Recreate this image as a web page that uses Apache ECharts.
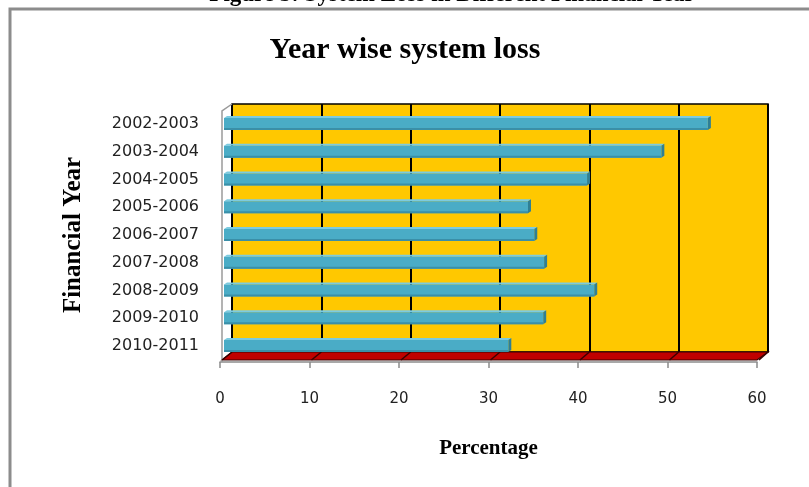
<!DOCTYPE html>
<html>
<head>
<meta charset="utf-8">
<script src="https://cdn.jsdelivr.net/npm/echarts@6/dist/echarts.min.js"></script>
<style>
  html, body { margin: 0; padding: 0; background: #fff; }
  #chart { width: 809px; height: 487px; }
</style>
</head>
<body>
<div id="chart"></div>
<script>
// data
const years = ["2002-2003", "2003-2004", "2004-2005", "2005-2006", "2006-2007",
  "2007-2008", "2008-2009", "2009-2010", "2010-2011"];
const loss = [54.4, 49.2, 40.9, 34.3, 35.0, 36.1, 41.7, 36.0, 32.1];
const xTicks = [0, 10, 20, 30, 40, 50, 60];

const serif = "Liberation Serif";
const sans = "DejaVu Sans";

// back wall / front face layout
const back = { left: 232, top: 104, right: 41, bottom: 135 };
const front = { left: 220, top: 110, right: 52, bottom: 127 };

const chart = echarts.init(document.getElementById("chart"));

const renderBar = (params, api) => {
  const cat = api.value(0);
  const v = api.value(1);
  const p0 = api.coord([0, cat]);
  const p1 = api.coord([v, cat]);
  const c = p0[1];
  const x0 = p0[0] + 4, x1 = p1[0] + 1;
  const y0 = c - 6, y1 = c + 6;
  const d = 3;
  return {
    type: "group",
    children: [
      { type: "polygon", shape: { points: [[x0, y0], [x0 + d, y0 - 2], [x1 + d, y0 - 2], [x1, y0]] },
        style: { fill: "#7ccbe0" } },
      { type: "polygon", shape: { points: [[x1, y0], [x1 + d, y0 - 2], [x1 + d, y1 - 2], [x1, y1]] },
        style: { fill: "#2f7f95" } },
      { type: "rect", shape: { x: x0, y: y0, width: x1 - x0, height: y1 - y0 },
        style: { fill: "#4aacc6" } },
      { type: "rect", shape: { x: x0, y: y1 - 2, width: x1 - x0, height: 2 },
        style: { fill: "#3a8fa8" } }
    ]
  };
};

chart.setOption({
  animation: false,
  title: {
    text: "Year wise system loss",
    left: 400,
    top: 30,
    textAlign: "center",
    textStyle: { fontFamily: serif, fontSize: 30, fontWeight: "bold", color: "#000" }
  },
  grid: [
    Object.assign({ show: true, backgroundColor: "#ffc800", borderColor: "#000", borderWidth: 1.5, z: 0 }, back),
    Object.assign({}, front)
  ],
  xAxis: [
    {
      gridIndex: 0, type: "value", min: 0, max: 60, interval: 10,
      axisLine: { show: false }, axisTick: { show: false }, axisLabel: { show: false },
      splitLine: { show: true, lineStyle: { color: "#000", width: 2 } }
    },
    {
      gridIndex: 1, type: "value", min: 0, max: 60, interval: 10, offset: 2,
      axisLine: { show: true, lineStyle: { color: "#8c8c8c", width: 1.5 } },
      axisTick: { show: true, length: 6, lineStyle: { color: "#8c8c8c", width: 1.5 } },
      axisLabel: {
        margin: 30, fontFamily: sans, fontSize: 15, color: "#222",
        formatter: (v) => (xTicks.includes(v) ? String(v) : "")
      },
      splitLine: { show: false },
      name: "Percentage", nameLocation: "middle", nameGap: 76,
      nameTextStyle: { fontFamily: serif, fontSize: 21, fontWeight: "bold", color: "#000" }
    }
  ],
  yAxis: [
    { gridIndex: 0, type: "value", show: false },
    {
      gridIndex: 1, type: "category", data: years, inverse: true,
      axisLine: { show: false }, axisTick: { show: false },
      axisLabel: { margin: 21, fontFamily: sans, fontSize: 16, color: "#222", padding: [6, 0, 0, 0] },
      name: "Financial Year", nameLocation: "middle", nameGap: 134, nameRotate: 90,
      nameTextStyle: { fontFamily: serif, fontSize: 25, fontWeight: "bold", color: "#000" }
    }
  ],
  series: [
    {
      type: "custom",
      xAxisIndex: 1, yAxisIndex: 1,
      renderItem: renderBar,
      data: years.map((y, i) => [i, loss[i]]),
      z: 5
    }
  ]
});

// decoration: floor, left wall edge, frame, cut-off caption
const W = 809, H = 487;
const fb = H - front.bottom;              // front floor edge y
const bb = H - back.bottom;               // back floor edge y
const floorLines = xTicks.map((t) => {
  const xb = chart.convertToPixel({ xAxisIndex: 0 }, t);
  const xf = chart.convertToPixel({ xAxisIndex: 1 }, t);
  return { type: "line", shape: { x1: xb, y1: bb, x2: xf + 2, y2: fb }, style: { stroke: "#3a0000", lineWidth: 1.5 }, z: 3 };
});

chart.setOption({
  graphic: [
    {
      type: "rect", shape: { x: 10, y: 9, width: 1000, height: 1000 },
      style: { fill: "none", stroke: "#8c8c8c", lineWidth: 3 }, z: 1
    },
    {
      type: "text", x: 452, y: -5,
      style: {
        text: "Figure 5: System Loss in Different Financial Year",
        fontFamily: serif, fontSize: 23, fontWeight: "bold", fill: "#000",
        align: "center", verticalAlign: "middle"
      }, z: 2
    },
    {
      type: "polygon",
      shape: { points: [[front.left + 2, fb], [W - front.right, fb], [W - back.right, bb], [back.left, bb]] },
      style: { fill: "#c00000", stroke: "#3a0000", lineWidth: 1.2 }, z: 2
    },
    {
      type: "polyline",
      shape: { points: [[back.left, back.top], [front.left + 2, back.top + 7], [front.left + 2, fb + 2]] },
      style: { stroke: "#9a9a9a", lineWidth: 1.5, fill: "none" }, z: 2
    }
  ].concat(floorLines)
});
</script>
</body>
</html>
